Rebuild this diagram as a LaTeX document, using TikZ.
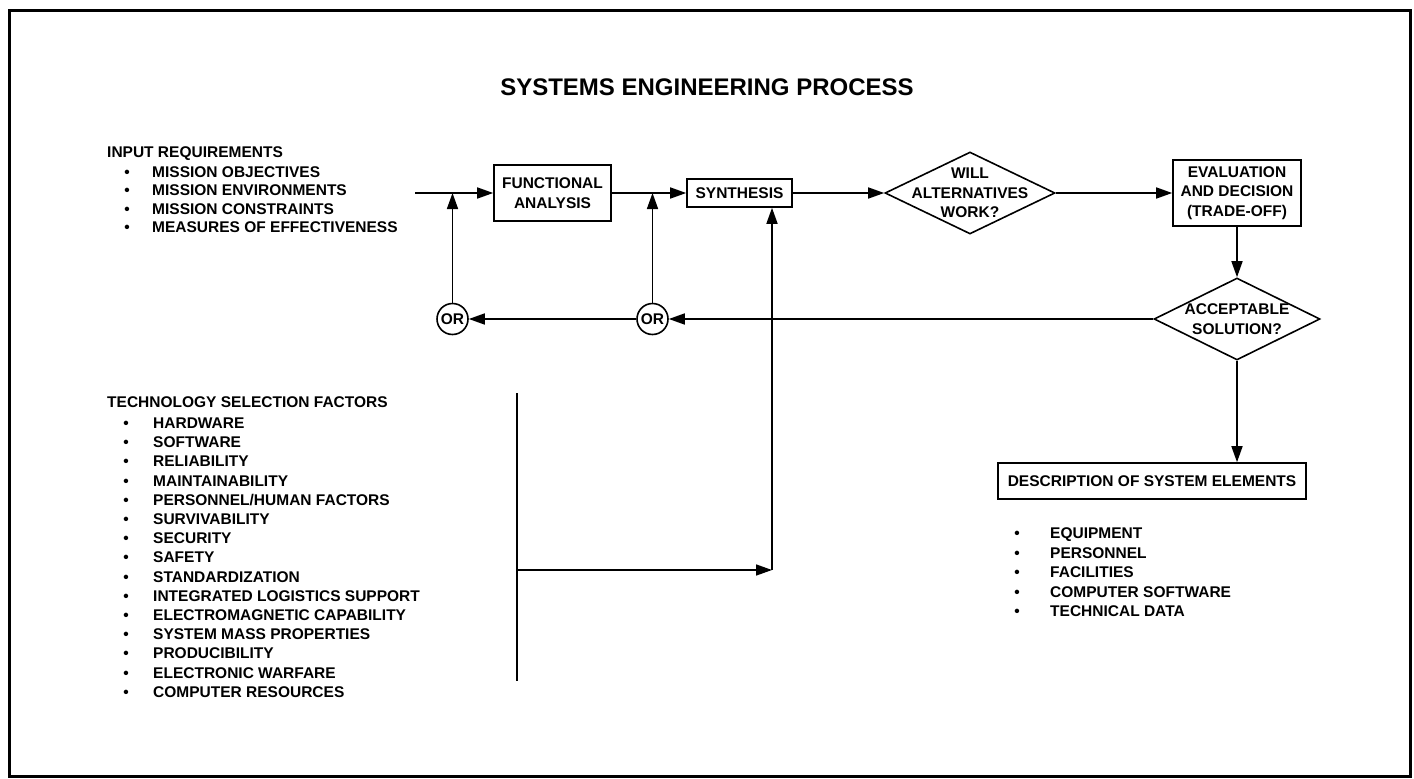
\documentclass[tikz,border=0pt]{standalone}
\usepackage{fontspec}
\setmainfont{Liberation Sans}
\usetikzlibrary{arrows.meta,shapes.geometric,positioning}
\newcommand{\sefont}{\bfseries\fontsize{15.5}{19.5}\selectfont}
\tikzset{
	blk/.style={draw,line width=1.6pt,align=center,inner sep=0pt,font=\sefont},
	dec/.style={diamond,aspect=2,draw,line width=1.6pt,align=center,inner sep=-16pt,minimum width=170pt,minimum height=82pt,font=\sefont},
	orc/.style={circle,draw,line width=1.6pt,minimum size=31pt,inner sep=0pt,font=\sefont},
	flow/.style={line width=1.6pt,-{Triangle[length=16pt,width=11pt]}},
	lst/.style={anchor=base west,inner sep=0pt,font=\sefont},
	dot/.style={anchor=base,inner sep=0pt,font=\sefont},
}
\begin{document}
\begin{tikzpicture}[x=1pt,y=-1pt]
				\useasboundingbox (0,0) rectangle (1414,779);
				\draw[line width=3pt] (9,10) rectangle (1410,776);
				\node[font=\bfseries\fontsize{24}{28}\selectfont] (title) at (707,87) {SYSTEMS ENGINEERING PROCESS};
				% input requirements
				\node[lst] (ir) at (107,157.5) {INPUT REQUIREMENTS};
				\foreach \txt [count=\i] in {MISSION OBJECTIVES,MISSION ENVIRONMENTS,MISSION CONSTRAINTS,MEASURES OF EFFECTIVENESS}{
					\node[dot] at (127,{177+18.5*(\i-1)}) {\textbullet};
					\node[lst] (ir\i) at (152,{177+18.5*(\i-1)}) {\txt};}
				% technology selection factors
				\node[lst] (tsf) at (107,407.5) {TECHNOLOGY SELECTION FACTORS};
				\foreach \txt [count=\i] in {HARDWARE,SOFTWARE,RELIABILITY,MAINTAINABILITY,PERSONNEL/HUMAN FACTORS,SURVIVABILITY,SECURITY,SAFETY,STANDARDIZATION,INTEGRATED LOGISTICS SUPPORT,ELECTROMAGNETIC CAPABILITY,SYSTEM MASS PROPERTIES,PRODUCIBILITY,ELECTRONIC WARFARE,COMPUTER RESOURCES}{
					\node[dot] at (126,{428.5+19.2*(\i-1)}) {\textbullet};
					\node[lst] (tsf\i) at (153,{428.5+19.2*(\i-1)}) {\txt};}
				% process
				\coordinate (in) at (415,193);
				\node[blk,minimum width=117pt,minimum height=56pt] (fa) at (552.5,193) {FUNCTIONAL\\ANALYSIS};
				\node[blk,minimum width=105pt,minimum height=28pt] (syn) at (739.5,193) {SYNTHESIS};
				\node[dec] (will) at (970,193) {WILL\\ALTERNATIVES\\WORK?};
				\node[dec,minimum width=166pt] (acc) at (1237,319) {ACCEPTABLE\\SOLUTION?};
				\node[blk,minimum width=128pt,minimum height=66pt] (eval) at (1237,193) {EVALUATION\\AND DECISION\\(TRADE-OFF)};
				\node[blk,minimum width=308pt,minimum height=36pt] (desc) at (1152,481) {DESCRIPTION OF SYSTEM ELEMENTS};
				\node[orc] (or1) at (452.5,319) {OR};
				\node[orc] (or2) at (652.5,319) {OR};
				\coordinate (tsftop) at (517,393);
				\coordinate (tsfbot) at (517,681);
				\coordinate (feed) at (772,570);
				\draw[flow] (in) -- (fa);
				\draw[flow] (fa) -- (syn);
				\draw[flow] (syn) -- (will);
				\draw[flow] (will) -- (eval);
				\draw[flow] (eval) -- (acc);
				\draw[flow] (acc.south) -- (acc.south |- desc.north);
				\draw[flow] (acc) -- (or2);
				\draw[flow] (or2) -- (or1);
				\draw[flow] (or1) -- (or1 |- fa.west);
				\draw[flow] (or2) -- (or2 |- syn.west);
				\draw[line width=1.6pt] (tsftop) -- (tsfbot);
				\draw[flow] (tsftop |- feed) -- (feed);
				\draw[flow] (feed) -- (feed |- syn.south);
				% system elements
				\foreach \txt [count=\i] in {EQUIPMENT,PERSONNEL,FACILITIES,COMPUTER SOFTWARE,TECHNICAL DATA}{
					\node[dot] at (1017,{538.5+19.5*(\i-1)}) {\textbullet};
					\node[lst] (dse\i) at (1050,{538.5+19.5*(\i-1)}) {\txt};}
				\end{tikzpicture}
\end{document}
